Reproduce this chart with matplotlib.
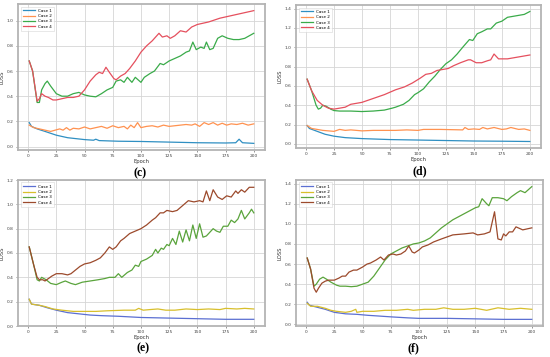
import numpy as np
import matplotlib
matplotlib.use("Agg")
import matplotlib.pyplot as plt

# ---- panel (c) ----
c_ep1 = [1, 3, 8, 15, 25, 35, 50, 58, 60, 63, 80, 100, 125, 150, 175, 184, 187, 190, 200]
c_case1 = [0.19, 0.16, 0.14, 0.12, 0.09, 0.07, 0.055, 0.05, 0.058, 0.047, 0.042, 0.04, 0.035, 0.03, 0.028, 0.03, 0.058, 0.03, 0.025]
c_ep2 = [1, 5, 10, 15, 20, 24, 28, 31, 34, 37, 40, 45, 50, 55, 60, 65, 70, 75, 80, 85, 88, 91, 94, 97, 100,
         105, 110, 115, 120, 125, 130, 135, 140, 145, 148, 152, 156, 160, 164, 168, 172, 176, 180, 185, 190, 195, 200]
c_case2 = [0.17, 0.15, 0.14, 0.13, 0.12, 0.13, 0.14, 0.13, 0.15, 0.13, 0.145, 0.14, 0.155, 0.14, 0.15, 0.16, 0.145, 0.165, 0.15, 0.16, 0.14, 0.17, 0.15, 0.19, 0.15,
           0.16, 0.165, 0.155, 0.17, 0.16, 0.165, 0.17, 0.175, 0.17, 0.18, 0.16, 0.19, 0.175, 0.19, 0.17, 0.185, 0.17, 0.18, 0.175, 0.185, 0.17, 0.18]
c_ep3 = [1, 4, 8, 10, 12, 15, 17, 20, 25, 30, 35, 40, 45, 50, 55, 60, 65, 70, 75, 78, 82, 85, 88, 92, 95, 100, 103, 108, 112, 117, 120,
         125, 130, 135, 140, 143, 146, 149, 153, 156, 158, 161, 164, 168, 172, 177, 182, 187, 192, 196, 200]
c_case3 = [0.68, 0.6, 0.35, 0.35, 0.45, 0.5, 0.52, 0.48, 0.42, 0.4, 0.4, 0.42, 0.43, 0.41, 0.4, 0.395, 0.42, 0.45, 0.47, 0.52, 0.53, 0.51, 0.55, 0.51, 0.55, 0.51, 0.55, 0.58, 0.6, 0.66, 0.65,
           0.68, 0.7, 0.72, 0.75, 0.76, 0.83, 0.77, 0.79, 0.78, 0.83, 0.77, 0.78, 0.86, 0.88, 0.86, 0.85, 0.85, 0.86, 0.88, 0.9]
c_ep4 = [1, 4, 8, 10, 12, 15, 18, 22, 25, 30, 35, 40, 45, 50, 55, 60, 63, 66, 69, 72, 76, 78, 82, 86, 90, 95, 100, 105, 110, 116, 119,
         123, 126, 130, 135, 140, 145, 150, 160, 170, 180, 190, 200]
c_case4 = [0.68, 0.6, 0.36, 0.38, 0.42, 0.4, 0.39, 0.37, 0.37, 0.38, 0.39, 0.39, 0.4, 0.45, 0.52, 0.57, 0.59, 0.58, 0.63, 0.59, 0.54, 0.53, 0.56, 0.58, 0.62, 0.68, 0.75, 0.8, 0.84, 0.9, 0.87,
           0.88, 0.86, 0.88, 0.92, 0.91, 0.95, 0.97, 0.99, 1.02, 1.04, 1.06, 1.08]

# ---- panel (d) ----
d_ep1 = [1, 3, 10, 17, 25, 35, 50, 75, 100, 125, 150, 175, 200]
d_case1 = [0.19, 0.16, 0.13, 0.1, 0.08, 0.065, 0.055, 0.045, 0.04, 0.035, 0.03, 0.028, 0.025]
d_ep2 = [1, 5, 15, 25, 30, 35, 40, 50, 60, 70, 80, 90, 100, 105, 120, 140, 142, 145, 150, 155, 158, 162, 168, 175, 179, 183, 190, 195, 200]
d_case2 = [0.19, 0.16, 0.14, 0.13, 0.15, 0.14, 0.145, 0.135, 0.14, 0.14, 0.14, 0.145, 0.14, 0.15, 0.15, 0.145, 0.17, 0.15, 0.155, 0.15, 0.17, 0.155, 0.17, 0.15, 0.155, 0.17, 0.15, 0.155, 0.14]
d_ep3 = [1, 5, 9, 11, 13, 15, 18, 22, 25, 30, 40, 50, 60, 70, 77, 80, 87, 92, 97, 100, 105, 110, 115, 120, 125, 130, 135, 140, 146, 149,
         153, 157, 162, 165, 170, 175, 180, 185, 190, 195, 200]
d_case3 = [0.67, 0.55, 0.4, 0.36, 0.37, 0.4, 0.39, 0.36, 0.345, 0.34, 0.34, 0.335, 0.34, 0.35, 0.37, 0.38, 0.41, 0.45, 0.51, 0.53, 0.57, 0.64, 0.7, 0.77, 0.83, 0.87, 0.93, 1.0, 1.08, 1.07,
           1.14, 1.16, 1.19, 1.19, 1.25, 1.27, 1.31, 1.32, 1.33, 1.34, 1.37]
d_ep4 = [1, 5, 10, 15, 20, 25, 30, 35, 40, 50, 60, 70, 80, 88, 95, 102, 107, 112, 117, 122, 127, 132, 138, 145, 147, 152, 157, 162, 165, 168,
         172, 180, 190, 200]
d_case4 = [0.67, 0.55, 0.45, 0.4, 0.37, 0.36, 0.37, 0.38, 0.41, 0.43, 0.47, 0.51, 0.56, 0.59, 0.63, 0.68, 0.72, 0.73, 0.76, 0.77, 0.78, 0.81, 0.84, 0.87, 0.87, 0.84, 0.84, 0.86, 0.87, 0.93,
           0.88, 0.88, 0.9, 0.92]

# ---- panel (e) ----
e_ep1 = [1, 3, 10, 17, 25, 35, 45, 55, 65, 80, 100, 125, 150, 175, 200]
e_case1 = [0.22, 0.18, 0.17, 0.15, 0.13, 0.11, 0.1, 0.09, 0.085, 0.08, 0.07, 0.065, 0.06, 0.055, 0.055]
e_ep2 = [1, 3, 10, 15, 22, 30, 40, 50, 60, 70, 85, 95, 98, 102, 108, 115, 122, 130, 140, 150, 160, 170, 175, 185, 192, 200]
e_case2 = [0.22, 0.18, 0.17, 0.16, 0.14, 0.13, 0.12, 0.12, 0.12, 0.125, 0.13, 0.13, 0.145, 0.13, 0.135, 0.14, 0.13, 0.13, 0.14, 0.135, 0.14, 0.135, 0.145, 0.14, 0.145, 0.14]
e_ep3 = [1, 5, 8, 10, 12, 16, 20, 25, 30, 33, 38, 42, 48, 55, 62, 68, 72, 77, 80, 83, 88, 92, 95, 98, 100, 105, 110, 113, 115, 118, 120,
         123, 125, 128, 131, 134, 137, 140, 143, 146, 149, 152, 155, 158, 162, 164, 167, 170, 173, 177, 180, 183, 186, 189, 192, 196, 198, 200]
e_case3 = [0.65, 0.5, 0.38, 0.37, 0.4, 0.38, 0.35, 0.34, 0.36, 0.37, 0.35, 0.34, 0.36, 0.37, 0.38, 0.39, 0.4, 0.4, 0.43, 0.4, 0.44, 0.46, 0.5, 0.49, 0.53, 0.55, 0.58, 0.63, 0.6, 0.64, 0.63,
           0.67, 0.66, 0.72, 0.67, 0.78, 0.69, 0.79, 0.7, 0.83, 0.72, 0.84, 0.73, 0.74, 0.78, 0.8, 0.78, 0.77, 0.82, 0.82, 0.87, 0.85, 0.88, 0.95, 0.88, 0.93, 0.96, 0.93]
e_ep4 = [1, 5, 8, 10, 13, 15, 18, 21, 25, 30, 35, 38, 42, 46, 50, 55, 60, 64, 68, 72, 75, 78, 82, 85, 90, 95, 100, 105, 110, 113, 117, 120,
         123, 128, 132, 137, 142, 147, 152, 155, 158, 161, 164, 168, 172, 176, 180, 184, 186, 189, 192, 196, 200]
e_case4 = [0.65, 0.5, 0.4, 0.38, 0.38, 0.37, 0.39, 0.41, 0.43, 0.43, 0.42, 0.43, 0.46, 0.49, 0.51, 0.52, 0.54, 0.56, 0.6, 0.65, 0.63, 0.65, 0.7, 0.72, 0.76, 0.78, 0.8, 0.83, 0.87, 0.89, 0.93, 0.93,
           0.95, 0.94, 0.95, 0.99, 1.03, 1.02, 1.03, 1.02, 1.11, 1.03, 1.12, 1.06, 1.04, 1.07, 1.06, 1.11, 1.09, 1.12, 1.1, 1.14, 1.14]

# ---- panel (f) ----
f_ep1 = [1, 3, 10, 17, 25, 35, 45, 55, 62, 75, 90, 100, 125, 150, 175, 200]
f_case1 = [0.22, 0.19, 0.17, 0.15, 0.12, 0.105, 0.1, 0.09, 0.085, 0.075, 0.065, 0.06, 0.06, 0.055, 0.05, 0.05]
f_ep2 = [1, 4, 10, 17, 22, 27, 35, 40, 44, 45, 50, 60, 70, 80, 90, 95, 105, 115, 122, 130, 140, 150, 160, 170, 180, 190, 200]
f_case2 = [0.21, 0.18, 0.18, 0.16, 0.14, 0.13, 0.12, 0.13, 0.15, 0.12, 0.13, 0.13, 0.14, 0.14, 0.15, 0.14, 0.15, 0.15, 0.165, 0.15, 0.15, 0.16, 0.14, 0.165, 0.15, 0.16, 0.15]
f_ep3 = [1, 4, 7, 9, 12, 15, 18, 22, 27, 30, 35, 40, 45, 50, 55, 60, 65, 70, 75, 80, 85, 90, 95, 100, 105, 110, 115, 120, 125, 130, 135, 140,
         145, 150, 153, 156, 160, 162, 165, 170, 175, 178, 182, 187, 190, 194, 197, 200]
f_case3 = [0.66, 0.55, 0.38, 0.4, 0.45, 0.47, 0.45, 0.42, 0.39, 0.38, 0.38, 0.375, 0.38, 0.4, 0.42, 0.48, 0.56, 0.64, 0.7, 0.73, 0.76, 0.78, 0.8, 0.81, 0.83, 0.86, 0.91, 0.96, 1.0, 1.04, 1.07, 1.1,
           1.13, 1.16, 1.17, 1.25, 1.2, 1.18, 1.26, 1.26, 1.25, 1.23, 1.27, 1.31, 1.33, 1.31, 1.34, 1.37]
f_ep4 = [1, 4, 7, 9, 11, 14, 17, 20, 25, 29, 32, 35, 38, 42, 45, 50, 54, 57, 62, 66, 69, 73, 77, 80, 84, 88, 91, 94, 96, 100, 103, 108,
         113, 120, 125, 130, 140, 148, 152, 158, 163, 167, 170, 173, 175, 177, 180, 183, 186, 188, 192, 196, 200]
f_case4 = [0.66, 0.55, 0.36, 0.32, 0.36, 0.41, 0.43, 0.44, 0.44, 0.46, 0.48, 0.48, 0.52, 0.54, 0.54, 0.57, 0.6, 0.61, 0.64, 0.67, 0.64, 0.69, 0.7, 0.69, 0.7, 0.73, 0.78, 0.72, 0.71, 0.74, 0.77, 0.79,
           0.82, 0.85, 0.87, 0.89, 0.9, 0.91, 0.89, 0.9, 0.92, 1.12, 0.85, 0.84, 0.9, 0.88, 0.92, 0.92, 0.97, 0.96, 0.94, 0.95, 0.96]

case_names = ["Case 1", "Case 2", "Case 3", "Case 4"]
colors_top = ["#2f8fc2", "#ff9250", "#3aab4a", "#e5505e"]
colors_bot = ["#5b6fd2", "#d8bf2c", "#5aa43c", "#9c4a2c"]

panels = [
    ("(c)", [(c_ep1, c_case1), (c_ep2, c_case2), (c_ep3, c_case3), (c_ep4, c_case4)], colors_top, [0.0, 0.2, 0.4, 0.6, 0.8, 1.0],
     [18, 265, 4, 150], (140, 173)),
    ("(d)", [(d_ep1, d_case1), (d_ep2, d_case2), (d_ep3, d_case3), (d_ep4, d_case4)], colors_top, [0.0, 0.2, 0.4, 0.6, 0.8, 1.0, 1.2, 1.4],
     [296, 541, 5, 148], (420, 171)),
    ("(e)", [(e_ep1, e_case1), (e_ep2, e_case2), (e_ep3, e_case3), (e_ep4, e_case4)], colors_bot, [0.0, 0.2, 0.4, 0.6, 0.8, 1.0, 1.2],
     [18, 265, 180, 326], (143, 348)),
    ("(f)", [(f_ep1, f_case1), (f_ep2, f_case2), (f_ep3, f_case3), (f_ep4, f_case4)], colors_bot, [0.0, 0.2, 0.4, 0.6, 0.8, 1.0, 1.2, 1.4],
     [296, 543, 180, 326], (413, 348)),
]

W, H = 550.0, 357.0
fig = plt.figure(figsize=(5.5, 3.57), dpi=100)

for tag, series, cols, yt, box, lab in panels:
    l, r, t, b = box
    ax = fig.add_axes([l / W, 1 - b / H, (r - l) / W, (b - t) / H])
    for (ep, vals), col, name in zip(series, cols, case_names):
        ax.plot(ep, vals, color=col, lw=0.9, label=name)
    ax.set_xticks([0, 25, 50, 75, 100, 125, 150, 175, 200])
    ax.set_yticks(yt)
    ax.set_yticklabels(["%.1f" % v for v in yt])
    ax.grid(True, color="#d6d6d6", lw=0.6)
    ax.tick_params(labelsize=3.2, length=1.5, width=0.4, pad=1.5, colors="#444444")
    for s in ax.spines.values():
        s.set_color("#b4b4b4")
        s.set_linewidth(1.3)
    ax.set_xlabel("Epoch", fontsize=3.8, labelpad=0.5, color="#333333")
    ax.set_ylabel("LOSS", fontsize=3.8, labelpad=2, color="#333333")
    leg = ax.legend(loc="upper left", fontsize=3.0, frameon=True, handlelength=3, borderpad=0.5,
                    labelspacing=0.35, borderaxespad=0.6)
    leg.get_frame().set_linewidth(0.4)
    leg.get_frame().set_edgecolor("#cccccc")
    fig.text(lab[0] / W, 1 - lab[1] / H, tag, ha="center", va="center", fontsize=8.5,
             fontweight="bold", family="Liberation Serif")

fig.savefig("out.png", dpi=100)
